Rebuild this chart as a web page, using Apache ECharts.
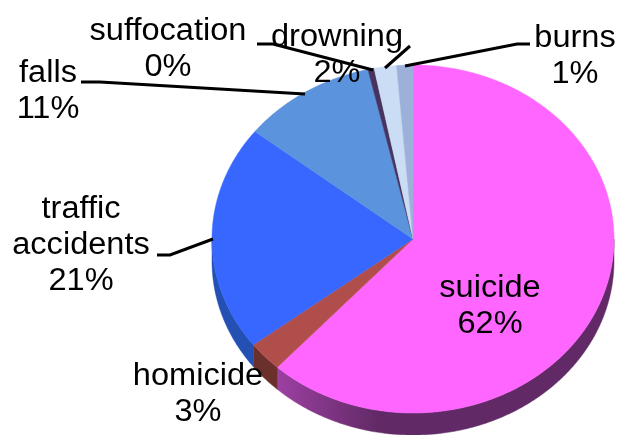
<!DOCTYPE html>
<html>
<head>
<meta charset="utf-8">
<style>html,body{margin:0;padding:0;background:#fff}#c{width:619px;height:435px}</style>
<script src="https://cdn.jsdelivr.net/npm/echarts@6/dist/echarts.min.js"></script>
</head>
<body>
<div id="c"></div>
<script>
// Data, clockwise from 12 o'clock
const names = ['suicide', 'homicide', 'traffic\naccidents', 'falls', 'suffocation', 'drowning', 'burns'];
const values = [61.8, 2.8, 21.0, 10.8, 0.5, 1.8, 1.3];
const percentLabels = ['62%', '3%', '21%', '11%', '0%', '2%', '1%'];

// Styles
const topColors = ['#ff66ff', '#b04e4c', '#3767ff', '#5b93dc', '#46335f', '#cbdcf5', '#9cb0d9'];
const wallColors = [
  new echarts.graphic.LinearGradient(0, 0, 1, 0, [
    { offset: 0, color: '#9d40a2' }, { offset: 0.3, color: '#612a66' }, { offset: 1, color: '#612a66' }
  ]),
  '#6b2f2c', '#2450b4', '#3a5f90', '#2a1f3a', '#7d8899', '#5f6d88'
];
const CX = 413, CY = 239, RX = 201, RY = 174, DEPTH = 22;
const FONT = '31px "Liberation Sans", Arial, sans-serif';
const LINE_H = 36, TEXT_SCALE_X = 1.05;
// label anchor: horizontal centre and vertical centre of the first line
const labelPos = [[490, 288], [198, 376], [81, 209], [48, 73], [168, 31], [337, 37], [575, 38]];
const leaders = [
  null, null,
  [[157, 255], [170, 255], [213, 239]],
  [[81, 82], [100, 82], [305, 94]],
  [[257, 44], [273, 44], [373, 70]],
  [[410, 46], [385, 68]],
  [[530, 44], [517, 44], [405, 66]]
];

const total = values.reduce((a, b) => a + b, 0);
const starts = [];
values.reduce((acc, v, i) => { starts[i] = acc; return acc + v; }, 0);
const deg = v => v / total * 360;
const pt = (a, dy) => {
  const r = a * Math.PI / 180;
  return [CX + RX * Math.sin(r), CY - RY * Math.cos(r) + (dy || 0)];
};
const arc = (a0, a1, dy) => {
  const pts = [];
  const n = Math.max(2, Math.ceil((a1 - a0) * 2));
  for (let k = 0; k <= n; k++) pts.push(pt(a0 + (a1 - a0) * k / n, dy));
  return pts;
};

function renderWall(params) {
  const i = params.dataIndex;
  const a0 = Math.max(deg(starts[i]), 90);
  const a1 = Math.min(deg(starts[i] + values[i]), 270);
  if (a1 <= a0) return { type: 'group', children: [] };
  const points = arc(a0, a1, 0).concat(arc(a0, a1, DEPTH).reverse());
  return { type: 'polygon', shape: { points }, silent: true,
    style: { fill: wallColors[i], stroke: wallColors[i], lineWidth: 0.5 } };
}
function renderTop(params) {
  const i = params.dataIndex;
  const a0 = deg(starts[i]), a1 = deg(starts[i] + values[i]);
  return { type: 'polygon', shape: { points: [[CX, CY]].concat(arc(a0, a1, 0)) }, silent: true,
    style: { fill: topColors[i], stroke: topColors[i], lineWidth: 0.5 } };
}
function renderLabel(params) {
  const i = params.dataIndex;
  const children = [];
  if (leaders[i]) {
    children.push({ type: 'polyline', shape: { points: leaders[i] }, silent: true,
      style: { stroke: '#000', lineWidth: 3, fill: 'none' } });
  }
  children.push({ type: 'text', x: labelPos[i][0], y: labelPos[i][1] - LINE_H / 2,
    scaleX: TEXT_SCALE_X, silent: true,
    style: { text: names[i] + '\n' + percentLabels[i], font: FONT, fill: '#000',
      align: 'center', verticalAlign: 'top', lineHeight: LINE_H } });
  return { type: 'group', children };
}

const chart = echarts.init(document.getElementById('c'), null, { renderer: 'canvas' });
const base = { type: 'custom', coordinateSystem: 'none', data: values, animation: false, silent: true };
chart.setOption({
  backgroundColor: '#fff',
  animation: false,
  series: [
    Object.assign({}, base, { name: 'walls', z: 1, renderItem: renderWall }),
    Object.assign({}, base, { name: 'tops', z: 2, renderItem: renderTop }),
    Object.assign({}, base, { name: 'labels', z: 3, renderItem: renderLabel })
  ]
});
</script>
</body>
</html>
